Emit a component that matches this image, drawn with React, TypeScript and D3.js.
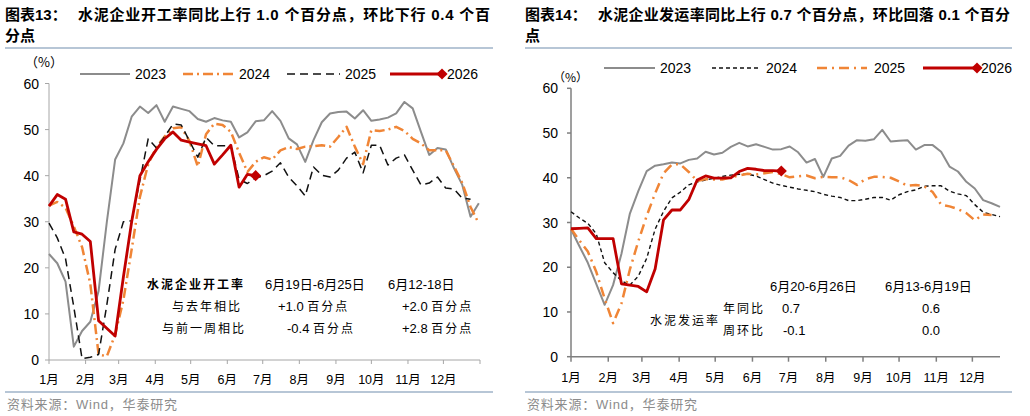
import React from 'react';
import * as d3 from 'd3';

const FONT = "'Liberation Sans', Arial, 'Noto Sans CJK SC', sans-serif";
const CJK = "'Noto Sans CJK SC', 'Liberation Sans', sans-serif";

const monthLabels = ['1月', '2月', '3月', '4月', '5月', '6月', '7月', '8月', '9月', '10月', '11月', '12月'];
const yTicks = [0, 10, 20, 30, 40, 50, 60];
const seriesNames = ['2023', '2024', '2025', '2026'];

// 水泥企业开工率 (weekly, %)
const op2023 = [23, 21, 17, 2.9, 6.3, 8.3, 15, 30, 43.5, 47, 52.8, 55, 53.6, 55.3, 51.7, 55, 54.5, 54, 52.3, 51.7,
  52.5, 52, 51.7, 48.3, 49.4, 51.8, 52, 54, 51.9, 48.1, 46.8, 43, 47.7, 51.6, 53.5, 53.8, 53.9, 52.4, 54.2, 51.9,
  52.2, 52.6, 53.5, 56, 54.6, 49.5, 44.5, 46, 45.7, 41.6, 38, 31.1, 34];
const op2024 = [33.5, 34.3, 33, 29, 24.5, 16.5, 1.2, 0.8, 5.5, 13, 24, 35.4, 42.5, 46.2, 48.5, 50.3, 50.5, 47.5, 42, 49,
  51.3, 51, 49.5, 45, 40.8, 43, 44, 43.5, 45.5, 46.2, 45.8, 46.3, 46.4, 46.6, 46.3, 48.4, 50.6, 46.3, 42.5, 49.9,
  49.7, 50, 50.6, 49.7, 48, 47, 45.5, 45.5, 45.5, 42, 38.4, 33.2, 29.6];
const op2025 = [29.7, 26.5, 22, 11.5, 0.3, 0.6, 1.2, 12, 24, 30, 30.2, 39, 48, 46, 48.5, 51.2, 51, 47.5, 44, 48.3,
  46.5, 46.5, 46.5, 39.2, 38.3, 39.5, 40, 41, 42.8, 39.7, 37.8, 35.6, 41.9, 40.1, 39.7, 41.2, 43.8, 45.1, 40.6, 46.6,
  46.6, 42.3, 43.8, 44.5, 41.2, 38, 38.4, 39.7, 37.3, 37.1, 35.1, 34.9];
const op2026 = [33.4, 35.9, 34.9, 27.8, 27.3, 25.7, 8.5, null, 5.2, 18, 30, 40, 43, 45.7, 48, 49.5, 47.7, 47.3, 46.9, 46.5,
  42.5, 44.5, 46.6, 37.5, 40.3, 40];

// 水泥发运率 (weekly, %)
const sh2023 = [28.5, 24.7, 21, 16.3, 11.6, 16, 23, 32, 37, 41.5, 42.7, 43, 43.4, 43.2, 44, 44.3, 45.8, 45.2, 45.6, 46.9,
  47.8, 47, 47.5, 46.9, 46.3, 46.4, 47, 45.7, 43.4, 44.2, 40.2, 44.3, 44.9, 47.2, 48.4, 48.3, 48.6, 50.7, 48.1, 48.3,
  48.4, 46.3, 47.3, 47.3, 45.8, 42.5, 41.4, 39.1, 37.6, 35, 34.3, 33.5];
const sh2024 = [32.4, 31, 29.8, 27.5, 21, 18.8, 17, 16, 18, 22, 28.5, 32.5, 35.5, 36.8, 38.4, 39.1, 39.5, 39.9, 40.3, 40.6,
  40.8, 40.8, 40.4, 39.6, 38.8, 38.3, 37.9, 37.5, 37.2, 36.9, 36.3, 35.9, 35.6, 34.9, 34.9, 35.2, 35.6, 35.6, 35, 36.2,
  36.9, 37.3, 38.1, 38.2, 38.2, 37, 36.4, 36, 34, 32.3, 31.8, 31.3];
const sh2025 = [28.6, 26, 23.5, 19, 13, 7.5, 11.9, 19.5, 25.8, 31.5, 36.5, 41, 43, 43, 41.3, 39.3, 39.7, 39.6, 39.6, 40.1,
  40.5, 40.9, 40.7, 41, 41.3, 40.8, 40.1, 40.3, 40.5, 39.9, 40.2, 40.1, 40.1, 39.5, 38.4, 39.7, 40.2, 40.2, 40, 39.2,
  38.2, 38.4, 38.1, 36.8, 34, 33.6, 33, 32.1, 30.5, 31.8, 31.7];
const sh2026 = [28.6, 28.7, 28.8, 26.4, 26.4, 26.4, 16.3, 16, 15.7, 14.5, 19.6, 30.6, 32.8, 32.8, 35.1, 39.5, 40.4, 39.9, 39.9, 40,
  41.4, 42.1, 41.9, 41.6, 41.6, 41.5];

const GRAY = '#8c8c8c';
const ORANGE = '#f08536';
const BLACK = '#111111';
const RED = '#c00000';

const t0 = Date.UTC(2026, 0, 1);
const DAY = 86400000;
const weekDate = (i: number) => new Date(t0 + i * 7 * DAY);

interface SeriesDef {
  name: string;
  values: (number | null)[];
  color: string;
  width: number;
  dash?: string;
  marker?: boolean;
}

interface LegendPos { x0: number; x1: number; tx: number; }

interface PanelProps {
  xRange: [number, number];
  endDay: number;
  yRange: [number, number];
  series: SeriesDef[];
  axisColor: string;
  axisWidth: number;
  labelRight: number;
  xLabelY: number;
  tickLen: number;
  endTick: boolean;
  legendY: number;
  legend: LegendPos[];
}

const diamond = d3.symbol().type(d3.symbolSquare).size(62)() as string;

function Panel(p: PanelProps) {
  const x = d3.scaleUtc().domain([new Date(t0), new Date(t0 + p.endDay * DAY)]).range(p.xRange);
  const y = d3.scaleLinear().domain([0, 60]).range(p.yRange);
  const monthTicks = d3.utcMonth.range(new Date(t0), new Date(t0 + (p.endTick ? 366 : p.endDay) * DAY));
  const line = d3.line<{ d: Date; v: number }>().x((d) => x(d.d)).y((d) => y(d.v));
  return (
    <g>
      <line x1={p.xRange[0]} x2={p.xRange[0]} y1={y(0)} y2={y(60)} stroke={p.axisColor} strokeWidth={p.axisWidth} />
      <line x1={p.xRange[0]} x2={p.xRange[1]} y1={y(0)} y2={y(0)} stroke={p.axisColor} strokeWidth={p.axisWidth} />
      {yTicks.map((t) => (
        <g key={t}>
          <line x1={p.xRange[0] - 4} x2={p.xRange[0]} y1={y(t)} y2={y(t)} stroke={p.axisColor} strokeWidth={p.axisWidth} />
          <text x={p.labelRight} y={y(t) + 5} textAnchor="end" fontSize={14} fontFamily={FONT} fill="#000">{t}</text>
        </g>
      ))}
      {monthTicks.map((m, i) => (
        <g key={i}>
          <line x1={x(m)} x2={x(m)} y1={y(0)} y2={y(0) + p.tickLen} stroke={p.axisColor} strokeWidth={p.axisWidth} />
          {i < 12 && (
            <text x={x(m)} y={p.xLabelY} textAnchor="middle" fontSize={12.5} fontFamily={FONT} fill="#000">{monthLabels[i]}</text>
          )}
        </g>
      ))}
      {p.series.map((s) => {
        const pts = s.values
          .map((v, i) => ({ d: weekDate(i), v }))
          .filter((d) => d.v !== null) as { d: Date; v: number }[];
        const last = pts[pts.length - 1];
        return (
          <g key={s.name}>
            <path d={line(pts) || ''} fill="none" stroke={s.color} strokeWidth={s.width} strokeDasharray={s.dash} strokeLinejoin="round" />
            {s.marker && (
              <path d={diamond} transform={`translate(${x(last.d)},${y(last.v)}) rotate(45)`} fill={s.color} />
            )}
          </g>
        );
      })}
      {p.series.map((s, i) => {
        const L = p.legend[i];
        return (
          <g key={'lg' + s.name}>
            <line x1={L.x0} x2={L.x1} y1={p.legendY} y2={p.legendY} stroke={s.color} strokeWidth={s.width} strokeDasharray={s.dash} />
            {s.marker && <path d={diamond} transform={`translate(${L.x1},${p.legendY}) rotate(45)`} fill={s.color} />}
            <text x={L.tx} y={p.legendY + 5} fontSize={14} fontFamily={FONT} fill="#000">{s.name}</text>
          </g>
        );
      })}
    </g>
  );
}

export default function App() {
  const leftSeries: SeriesDef[] = [
    { name: seriesNames[0], values: op2023, color: GRAY, width: 2 },
    { name: seriesNames[1], values: op2024, color: ORANGE, width: 2.5, dash: '10,4,2,4' },
    { name: seriesNames[2], values: op2025, color: BLACK, width: 1.5, dash: '8,5' },
    { name: seriesNames[3], values: op2026, color: RED, width: 2.8, marker: true },
  ];
  const rightSeries: SeriesDef[] = [
    { name: seriesNames[0], values: sh2023, color: GRAY, width: 2 },
    { name: seriesNames[1], values: sh2024, color: BLACK, width: 1.4, dash: '4,3' },
    { name: seriesNames[2], values: sh2025, color: ORANGE, width: 2.5, dash: '10,5,2,5' },
    { name: seriesNames[3], values: sh2026, color: RED, width: 2.8, marker: true },
  ];
  const titleStyle = { fontFamily: FONT, fontWeight: 700, fontSize: 15, fill: '#000' } as const;
  const tbl = { fontFamily: CJK, fontSize: 12, fill: '#000', letterSpacing: 2 } as const;
  const num = { fontFamily: FONT, fontSize: 13, fill: '#000' } as const;
  const src = { fontFamily: FONT, fontSize: 13, fill: '#8c8c8c', letterSpacing: 0.8 } as const;
  return (
    <svg width={1030} height={416} style={{ position: 'absolute', left: 0, top: 0, background: '#fff' }}>
      <rect x={0} y={0} width={1030} height={416} fill="#fff" />
      <text x={5} y={20} {...titleStyle}>图表13：</text>
      <text x={78} y={20} {...titleStyle} textLength={412} lengthAdjust="spacing">水泥企业开工率同比上行 1.0 个百分点，环比下行 0.4 个百</text>
      <text x={5} y={41} {...titleStyle}>分点</text>
      <line x1={5} x2={493} y1={48} y2={48} stroke="#9fb3c8" strokeWidth={1.5} />

      <text x={525} y={20} {...titleStyle}>图表14：</text>
      <text x={598} y={20} {...titleStyle} textLength={412} lengthAdjust="spacing">水泥企业发运率同比上行 0.7 个百分点，环比回落 0.1 个百分</text>
      <text x={525} y={41} {...titleStyle}>点</text>
      <line x1={525} x2={1012} y1={48} y2={48} stroke="#9fb3c8" strokeWidth={1.5} />

      <text x={25} y={67} fontFamily={CJK} fontSize={13} fill="#000">（%）</text>
      <Panel
        xRange={[49, 480]}
        endDay={365}
        yRange={[360, 83.5]}
        series={leftSeries}
        axisColor="#a6a6a6"
        axisWidth={1}
        labelRight={39}
        xLabelY={384}
        tickLen={4}
        endTick={true}
        legendY={74}
        legend={[
          { x0: 80, x1: 130, tx: 135 },
          { x0: 183, x1: 233, tx: 239 },
          { x0: 287, x1: 340, tx: 345 },
          { x0: 390, x1: 442, tx: 447 },
        ]}
      />
      <text x={147} y={289} {...tbl} fontWeight={700}>水泥企业开工率</text>
      <text x={265} y={289} {...num}>6月19日-6月25日</text>
      <text x={388} y={289} {...num}>6月12-18日</text>
      <text x={172} y={311} {...tbl}>与去年相比</text>
      <text x={278} y={311} {...num}>+1.0 <tspan {...tbl}>百分点</tspan></text>
      <text x={402} y={311} {...num}>+2.0 <tspan {...tbl}>百分点</tspan></text>
      <text x={162} y={333} {...tbl}>与前一周相比</text>
      <text x={287} y={333} {...num}>-0.4 <tspan {...tbl}>百分点</tspan></text>
      <text x={402} y={333} {...num}>+2.8 <tspan {...tbl}>百分点</tspan></text>

      <text x={553} y={82} fontFamily={CJK} fontSize={12} fill="#000">（%）</text>
      <Panel
        xRange={[571, 1000]}
        endDay={357}
        yRange={[356.7, 88.3]}
        series={rightSeries}
        axisColor="#7f7f7f"
        axisWidth={1.5}
        labelRight={558}
        xLabelY={382}
        tickLen={5}
        endTick={false}
        legendY={68}
        legend={[
          { x0: 604, x1: 655, tx: 660 },
          { x0: 712, x1: 760, tx: 766 },
          { x0: 817, x1: 867, tx: 874 },
          { x0: 923, x1: 977, tx: 981 },
        ]}
      />
      <text x={770} y={291} {...num}>6月20-6月26日</text>
      <text x={885} y={291} {...num}>6月13-6月19日</text>
      <text x={723} y={313} {...tbl}>年同比</text>
      <text x={782} y={313} {...num}>0.7</text>
      <text x={922} y={313} {...num}>0.6</text>
      <text x={650} y={325} {...tbl}>水泥发运率</text>
      <text x={723} y={335} {...tbl}>周环比</text>
      <text x={783} y={335} {...num}>-0.1</text>
      <text x={922} y={335} {...num}>0.0</text>

      <line x1={5} x2={493} y1={392} y2={392} stroke="#9fb3c8" strokeWidth={1.5} />
      <line x1={525} x2={1012} y1={392} y2={392} stroke="#9fb3c8" strokeWidth={1.5} />
      <text x={7} y={409} {...src}>资料来源：Wind，华泰研究</text>
      <text x={527} y={409} {...src}>资料来源：Wind，华泰研究</text>
    </svg>
  );
}
